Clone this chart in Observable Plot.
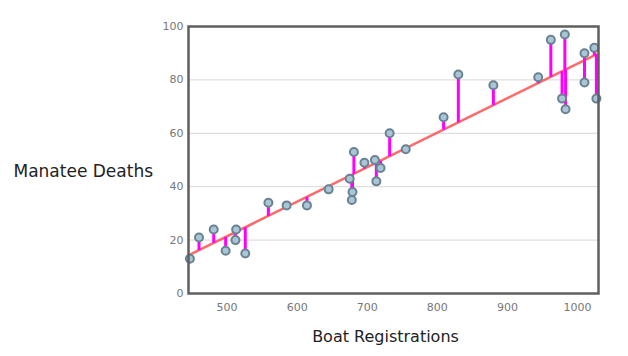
<!DOCTYPE html>
<html>
<head>
<meta charset="utf-8">
<script src="https://cdn.jsdelivr.net/npm/d3@7"></script>
<script src="https://cdn.jsdelivr.net/npm/@observablehq/plot@0.6"></script>
<style>
  html, body { margin: 0; padding: 0; background: #fff; }
  #chart { width: 628px; height: 356px; }
</style>
</head>
<body>
<div id="chart"></div>
<script>
// Boat registrations (thousands) and manatee deaths
const boats  = [447, 460, 481, 498, 513, 512, 526, 559, 585, 614, 645, 675, 681, 679, 678, 696, 711, 719, 713, 732, 755, 809, 830, 880, 944, 962, 982, 978, 983, 1010, 1010, 1024, 1027];
const deaths = [13, 21, 24, 16, 24, 20, 15, 34, 33, 33, 39, 43, 53, 38, 35, 49, 50, 47, 42, 60, 54, 66, 82, 78, 81, 95, 97, 73, 69, 90, 79, 92, 73];
const xTicks = [500, 600, 700, 800, 900, 1000];
const yTicks = [0, 20, 40, 60, 80, 100];
const xTitle = "Boat Registrations";
const yTitle = "Manatee Deaths";

const data = boats.map((b, i) => ({x: b, y: deaths[i]}));
const mx = d3.mean(boats), my = d3.mean(deaths);
const slope = d3.sum(data, d => (d.x - mx) * (d.y - my)) / d3.sum(data, d => (d.x - mx) ** 2);
const intercept = my - slope * mx;
data.forEach(d => d.fit = intercept + slope * d.x);

const font = "'DejaVu Sans', sans-serif";

const chart = Plot.plot({
  width: 628,
  height: 356,
  marginLeft: 188,
  marginTop: 26,
  marginRight: 30,
  marginBottom: 63,
  style: {fontFamily: font, fontSize: "11px", color: "#777", background: "#fff"},
  x: {domain: [445, 1030], ticks: xTicks, tickFormat: d3.format("d"), tickSize: 0, tickPadding: 10, label: null},
  y: {domain: [0, 100], ticks: yTicks, tickSize: 0, tickPadding: 5, label: null},
  marks: [
    Plot.gridY(yTicks.slice(1, -1), {stroke: "#d8d8d8", strokeOpacity: 1, strokeWidth: 1}),
    Plot.linearRegressionY(data, {x: "x", y: "y", ci: 0, stroke: "#ff4444", strokeWidth: 2.5, strokeOpacity: 0.8}),
    Plot.link(data, {x1: "x", x2: "x", y1: "y", y2: "fit", stroke: "#ff00ff", strokeWidth: 3}),
    Plot.dot(data, {x: "x", y: "y", r: 4, fill: "#a8c6d6", stroke: "#6b8293", strokeWidth: 2}),
    Plot.frame({stroke: "#5f5f5f", strokeWidth: 2.5}),
    Plot.text([yTitle], {frameAnchor: "left", dx: -175, dy: 12, textAnchor: "start", fontSize: 17, fill: "#222"}),
    Plot.text([xTitle], {frameAnchor: "bottom", dx: -8, dy: 48, textAnchor: "middle", fontSize: 16, fill: "#222"})
  ]
});
document.getElementById("chart").appendChild(chart);
</script>
</body>
</html>
